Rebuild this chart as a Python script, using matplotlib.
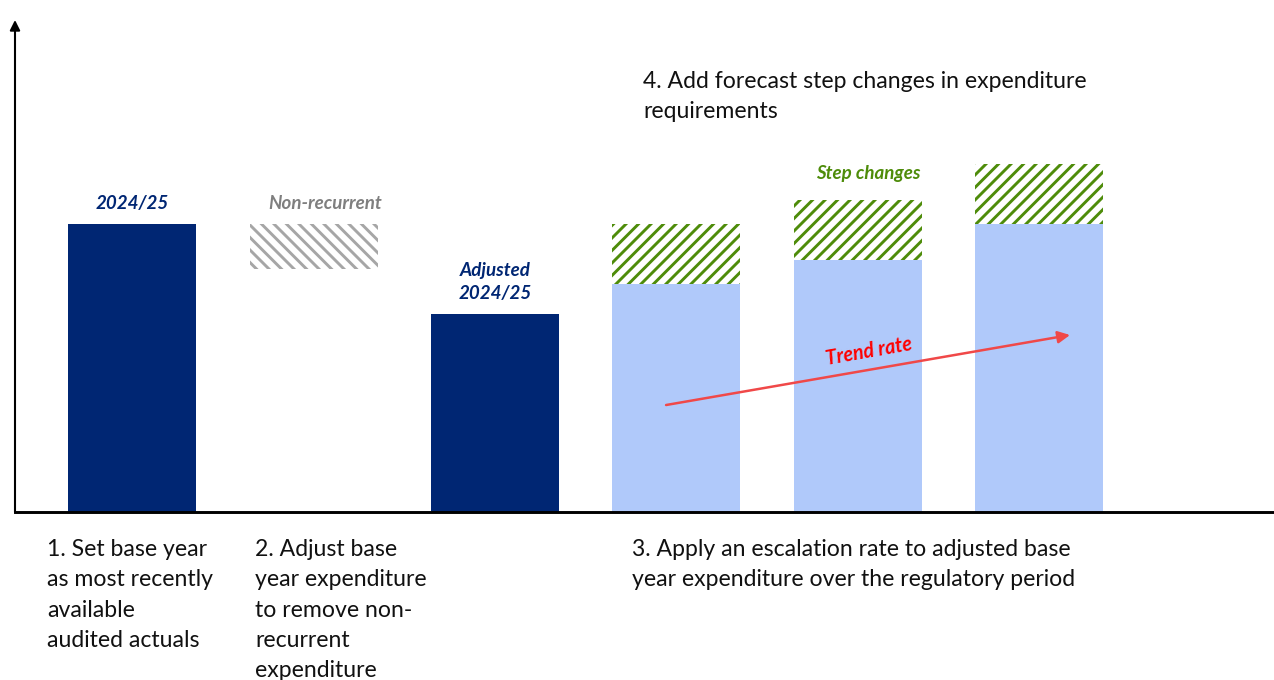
import matplotlib
matplotlib.use("Agg")
import matplotlib.pyplot as plt

plt.rcParams["font.family"] = ["Lato", "DejaVu Sans"]
plt.rcParams["hatch.linewidth"] = 1.4

# Building-block values (arbitrary units)
steps = ["Base year", "Non-recurrent", "Adjusted base", "Year 1", "Year 2", "Year 3"]
base_year = 4.8
non_recurrent = 0.75
adjusted_base = 3.3
forecast_base = [3.8, 4.2, 4.8]
step_changes = [1.0, 1.0, 1.0]

NAVY = "#002673"
LIGHT_BLUE = "#B0C9FA"
GREEN = "#4E8C0A"
GREY_HATCH = "#A6A6A6"
GREY_TEXT = "#7F7F7F"
RED = "#FF0000"

DPI = 150
fig = plt.figure(figsize=(1274 / DPI, 680 / DPI), dpi=DPI)
W, H = 1274, 680
ax = fig.add_axes([15 / W, (H - 512) / H, (W - 15) / W, (512 - 20) / H])

xs = list(range(len(steps)))
bw = 0.706

# 1. base year
ax.bar(xs[0], base_year, width=bw, color=NAVY, linewidth=0)
# 2. non-recurrent (floating, hatched)
ax.bar(xs[1], non_recurrent, bottom=base_year - non_recurrent, width=bw,
       facecolor="white", edgecolor=GREY_HATCH, hatch="\\\\\\\\", linewidth=0)
# 3. adjusted base
ax.bar(xs[2], adjusted_base, width=bw, color=NAVY, linewidth=0)
# 4. forecasts with step changes
fx = xs[3:]
ax.bar(fx, forecast_base, width=bw, color=LIGHT_BLUE, linewidth=0)
ax.bar(fx, step_changes, bottom=forecast_base, width=bw,
       facecolor="white", edgecolor=GREEN, hatch="////", linewidth=0)

ax.set_xlim(-0.648, 6.296)
ax.set_ylim(0, 8.2)
ax.set_xticks([])
ax.set_yticks([])
for s in ["top", "right", "left"]:
    ax.spines[s].set_visible(False)
ax.spines["bottom"].set_linewidth(1.4)
ax.spines["bottom"].set_color("black")

# y-axis with arrow head
ax.annotate("", xy=(0, 1.0), xytext=(0, 0), xycoords="axes fraction",
            arrowprops=dict(arrowstyle="-|>", color="black", lw=1.0,
                            mutation_scale=10, shrinkA=0, shrinkB=0),
            annotation_clip=False)

lbl = dict(fontweight="bold", fontstyle="italic", fontsize=9.0, ha="center", va="bottom")
ax.text(xs[0], base_year + 0.2, "2024/25", color=NAVY, **lbl)
ax.text(xs[1] + 0.06, base_year + 0.2, "Non-recurrent", color=GREY_TEXT, **lbl)
ax.text(xs[2], adjusted_base + 0.2, "Adjusted\n2024/25", color=NAVY,
        linespacing=1.4, **lbl)
ax.text(xs[4] + 0.06, forecast_base[1] + step_changes[1] + 0.3, "Step changes",
        color=GREEN, **lbl)

# trend arrow
ax.annotate("", xy=(5.171, 2.95), xytext=(2.943, 1.783),
            arrowprops=dict(arrowstyle="-|>", color="#F04848", lw=1.2,
                            mutation_scale=12, shrinkA=0, shrinkB=0))
ax.text(4.06, 2.68, "Trend rate", color=RED, fontweight="bold", fontstyle="italic",
        fontsize=9.5, rotation=10, ha="center", va="center", rotation_mode="anchor")

body = dict(fontsize=11.05, color="#111111", ha="left", va="top", linespacing=1.55,
            transform=fig.transFigure)
fig.text(643 / W, 1 - 71 / H, "4. Add forecast step changes in expenditure\nrequirements", **body)
fig.text(47 / W, 1 - 539 / H, "1. Set base year\nas most recently\navailable\naudited actuals", **body)
fig.text(255 / W, 1 - 539 / H, "2. Adjust base\nyear expenditure\nto remove non-\nrecurrent\nexpenditure", **body)
fig.text(632 / W, 1 - 539 / H, "3. Apply an escalation rate to adjusted base\nyear expenditure over the regulatory period", **body)

fig.savefig("out.png", dpi=DPI)
